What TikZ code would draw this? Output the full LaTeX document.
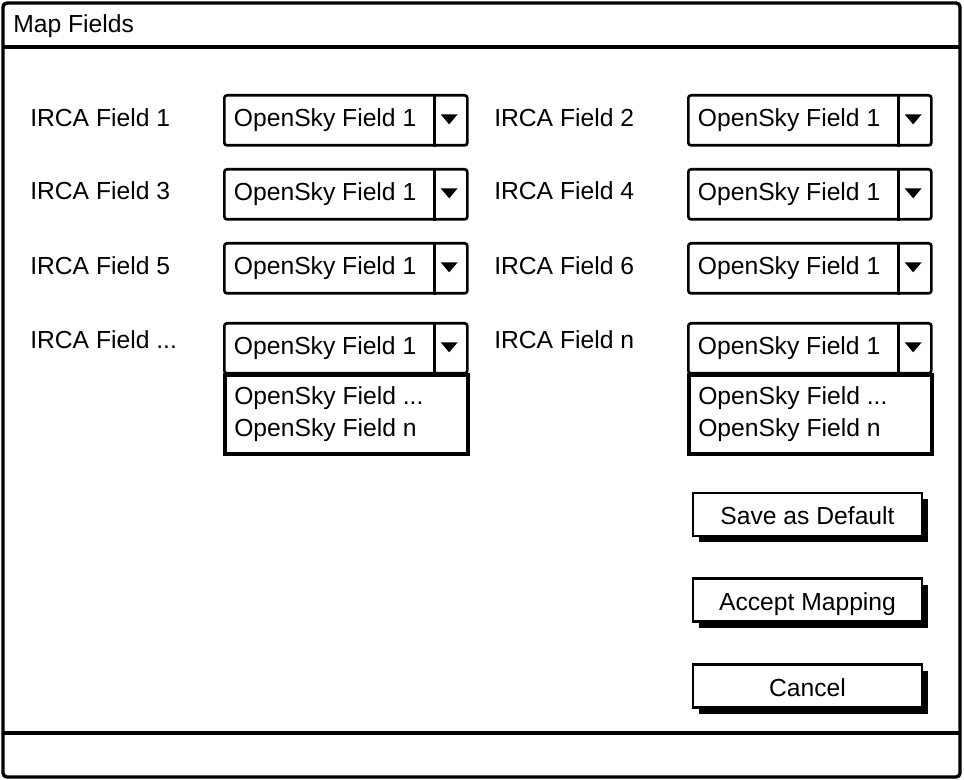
\documentclass[tikz,border=0pt]{standalone}
\usepackage{fontspec}
\setmainfont{Liberation Sans}
\usetikzlibrary{shadows}
\begin{document}
\begin{tikzpicture}[x=0.75pt,y=-0.75pt,
    lbl/.style={anchor=west,inner sep=0pt,font=\fontsize{18.5}{22}\selectfont},
    combo/.style={draw,line width=2pt,rounded corners=2pt,fill=white,anchor=north west,
      minimum width=182.25pt,minimum height=37.5pt,inner sep=0pt},
    listbox/.style={draw,line width=3pt,fill=white,anchor=north west,
      minimum width=182.25pt,minimum height=59.25pt,inner sep=0pt},
    btn/.style={draw,line width=2pt,fill=white,minimum width=171.75pt,minimum height=32.25pt,
      inner sep=0pt,text height=18pt,text depth=3pt,font=\fontsize{18.5}{22}\selectfont,
      drop shadow={shadow xshift=4.5pt,shadow yshift=-4.5pt,fill=black,opacity=1}}]
  \useasboundingbox (0,0) rectangle (964,780);
  % window
  \draw[line width=2.5pt,rounded corners=3pt] (3,3) rectangle (960,777);
  \draw[line width=2.5pt] (3,47) -- (960,47);
  \draw[line width=2.5pt] (3,733) -- (960,733);
  \node[lbl] (title) at (13,26) {Map Fields};

  % rows of fields
  \foreach \n/\ly/\cy/\la/\lb in {1/118/94/1/2,2/191/168/3/4,3/266/242/5/6,4/340/322/{...}/n}{
    \node[lbl] (ll\n) at (30,\ly) {IRCA Field \la};
    \node[lbl] (lr\n) at (494,\ly) {IRCA Field \lb};
    \foreach \s/\x in {l/223,r/687}{
      \node[combo] (c\s\n) at (\x,\cy) {};
      \draw[line width=2pt] ([xshift=-25.5pt]c\s\n.north east) -- ([xshift=-25.5pt]c\s\n.south east);
      \fill ([xshift=-21pt,yshift=4.5pt]c\s\n.east) -- ++(17,0) -- ++(-8.5,10) -- cycle;
      \node[lbl] (t\s\n) at ([xshift=8pt]c\s\n.west) {OpenSky Field 1};
    }
  }

  % open lists under the last row
  \foreach \s/\x in {l/223,r/687}{
    \node[listbox] (list\s) at (\x,373) {};
    \node[lbl] (la\s) at (\x+11,398) {OpenSky Field ...};
    \node[lbl] (lb\s) at (\x+11,430) {OpenSky Field n};
  }

  % buttons
  \node[btn] (save) at (807.5,514.5) {Save as Default};
  \node[btn] (accept) at (807.5,600) {Accept Mapping};
  \node[btn] (cancel) at (807.5,686) {Cancel};
\end{tikzpicture}
\end{document}
